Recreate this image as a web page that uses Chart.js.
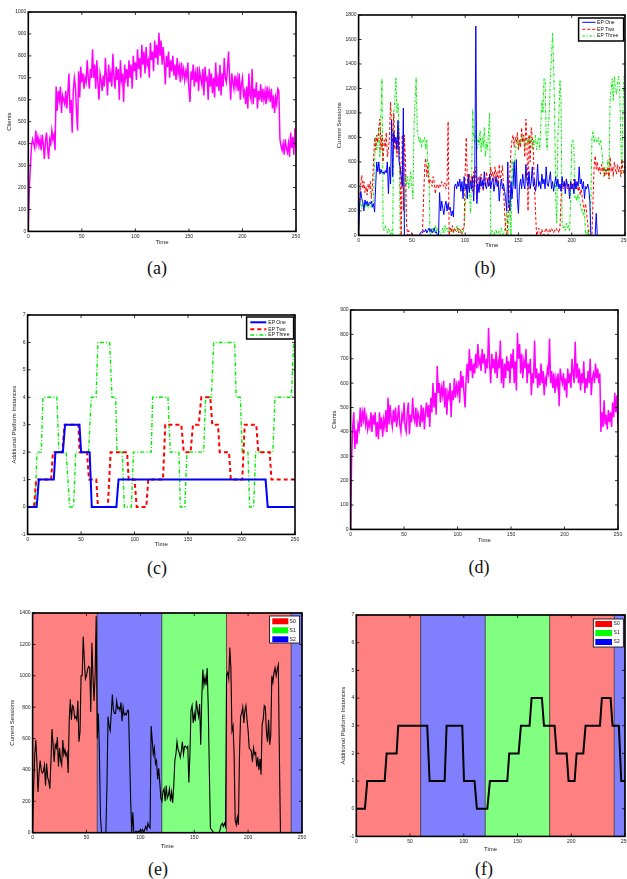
<!DOCTYPE html>
<html lang="en">
<head>
<meta charset="UTF-8">
<title>Clients, sessions and platform instances</title>
<style>
  body {
    margin: 0;
    background: #fff;
    width: 627px;
    height: 879px;
    overflow: hidden;
    position: relative;
  }
  canvas { position: absolute; }
  .cap {
    position: absolute;
    font-family: "Liberation Serif", "Times New Roman", serif;
    font-size: 18px;
    color: #111;
    transform: translate(-50%, -50%);
  }
</style>
<script src="https://cdn.jsdelivr.net/npm/chart.js"></script>
</head>
<body>
<canvas id="chartA"></canvas>
<canvas id="chartB"></canvas>
<canvas id="chartC"></canvas>
<canvas id="chartD"></canvas>
<canvas id="chartE"></canvas>
<canvas id="chartF"></canvas>

<div class="cap" style="left:157px;top:268px">(a)</div>
<div class="cap" style="left:485px;top:268px">(b)</div>
<div class="cap" style="left:157px;top:568px">(c)</div>
<div class="cap" style="left:479px;top:567px">(d)</div>
<div class="cap" style="left:158px;top:869px">(e)</div>
<div class="cap" style="left:484px;top:869px">(f)</div>

<script>
// values, one per time unit (t = 0..250) unless noted

// (a) clients
const clientsA = [
  0, 200, 300, 390, 420, 400, 380, 460, 400, 430,
  390, 420, 370, 440, 400, 330, 410, 450, 380, 330,
  420, 400, 460, 420, 440, 370, 660, 550, 640, 600,
  660, 540, 620, 600, 580, 640, 560, 640, 720, 540,
  600, 450, 640, 700, 660, 550, 460, 730, 610, 750,
  680, 720, 650, 700, 680, 780, 700, 650, 740, 700,
  830, 700, 760, 650, 780, 680, 600, 720, 690, 640,
  710, 660, 790, 700, 620, 760, 680, 720, 660, 810,
  700, 650, 750, 690, 740, 600, 780, 690, 720, 590,
  760, 700, 740, 660, 780, 700, 760, 650, 800, 730,
  770, 690, 830, 740, 790, 700, 850, 760, 820, 720,
  840, 760, 780, 700, 860, 780, 820, 730, 870, 790,
  850, 760, 905, 800, 870, 760, 840, 770, 670, 800,
  750, 820, 700, 780, 730, 800, 710, 760, 690, 790,
  720, 750, 680, 770, 710, 740, 690, 730, 700, 770,
  650, 590, 730, 690, 760, 660, 720, 680, 750, 640,
  730, 700, 670, 740, 620, 750, 690, 700, 600, 740,
  660, 720, 630, 700, 610, 770, 660, 700, 640, 760,
  620, 720, 660, 790, 700, 680, 740, 820, 700, 600,
  720, 680, 650, 710, 660, 700, 640, 720, 600, 670,
  700, 620, 640, 580, 660, 560, 720, 620, 600, 740,
  580, 650, 610, 680, 560, 640, 600, 670, 590, 650,
  600, 640, 580, 660, 610, 640, 590, 650, 560, 620,
  540, 610, 580, 650, 640, 420, 390, 370, 400, 350,
  420, 380, 360, 400, 340, 450, 380, 430, 350, 470,
  380
];

// (b) current sessions per EP
const sessionsOne = [
  0, 250, 360, 300, 270, 200, 290, 250, 280, 240,
  270, 260, 280, 230, 260, 190, 400, 600, 520, 600,
  500, 540, 510, 520, 500, 530, 510, 600, 340, 560,
  420, 940, 480, 840, 760, 800, 700, 940, 600, 560,
  480, 400, 1040, 0, 0, 0, 0, 0, 0, 0,
  0, 0, 0, 0, 0, 0, 0, 0, 20, 30,
  20, 40, 30, 50, 20, 40, 60, 30, 50, 20,
  40, 60, 20, 30, 0, 0, 350, 200, 280, 220,
  170, 240, 280, 200, 260, 210, 230, 160, 200, 150,
  400, 420, 380, 440, 400, 460, 360, 440, 300, 480,
  380, 420, 300, 500, 350, 440, 380, 480, 280, 500,
  1710, 260, 420, 350, 480, 400, 450, 380, 520, 410,
  380, 450, 400, 500, 380, 440, 470, 360, 420, 480,
  400, 440, 280, 400, 460, 380, 420, 360, 300, 200,
  600, 260, 200, 440, 300, 420, 600, 380, 620, 300,
  180, 400, 460, 380, 500, 420, 380, 580, 440, 400,
  520, 380, 440, 560, 400, 460, 360, 420, 580, 400,
  440, 380, 500, 420, 460, 380, 560, 420, 400, 460,
  520, 380, 440, 360, 420, 480, 400, 460, 380, 420,
  360, 480, 400, 440, 340, 460, 400, 420, 300, 440,
  380, 420, 340, 460, 380, 440, 400, 560, 420, 460,
  380, 440, 300, 400, 380, 420, 380, 280, 0, 0,
  0, 0, 0, 180, 0, 0, 0, 0, 0, 0,
  0, 0, 0, 0, 0, 0, 0, 0, 0, 0,
  0, 0, 0, 0, 0, 0, 0, 0, 0, 0,
  0
];
const sessionsTwo = [
  0, 300, 420, 490, 380, 440, 350, 400, 330, 420,
  380, 440, 300, 400, 600, 800, 700, 820, 760, 880,
  950, 700, 820, 600, 780, 720, 840, 640, 700, 800,
  1090, 900, 760, 1000, 700, 800, 640, 900, 840, 500,
  0, 820, 200, 820, 600, 100, 0, 40, 0, 0,
  20, 0, 0, 0, 0, 0, 0, 0, 0, 0,
  40, 300, 560, 630, 480, 560, 420, 460, 440, 400,
  480, 440, 340, 400, 420, 380, 420, 400, 440, 420,
  400, 430, 380, 420, 930, 0, 60, 30, 80, 20,
  60, 40, 30, 60, 20, 50, 30, 10, 60, 60,
  500, 800, 460, 380, 500, 420, 480, 360, 520, 400,
  560, 300, 480, 420, 380, 500, 440, 360, 460, 400,
  520, 440, 480, 400, 560, 480, 520, 440, 560, 480,
  520, 400, 580, 460, 500, 570, 380, 200, 40, 0,
  120, 300, 500, 700, 780, 820, 720, 800, 760, 840,
  700, 780, 720, 880, 760, 820, 640, 950, 780, 200,
  820, 600, 880, 800, 700, 400, 200, 0, 20, 60,
  30, 0, 50, 20, 0, 40, 60, 30, 0, 50,
  30, 60, 40, 20, 50, 40, 60, 40, 20, 60,
  300, 420, 380, 440, 400, 460, 380, 420, 360, 440,
  400, 380, 460, 420, 380, 440, 360, 400, 330, 380,
  300, 240, 200, 260, 180, 100, 0, 0, 0, 0,
  300, 560, 650, 540, 600, 520, 560, 500, 580, 520,
  560, 480, 540, 500, 560, 460, 640, 520, 560, 480,
  600, 540, 500, 580, 520, 560, 480, 620, 540, 500,
  580
];
const sessionsThree = [
  0, 300, 260, 220, 260, 240, 280, 230, 260, 220,
  250, 270, 230, 260, 300, 600, 800, 700, 760, 880,
  640, 1000, 1280, 60, 40, 80, 50, 20, 60, 30,
  0, 40, 0, 1000, 1100, 1290, 1000, 1080, 900, 0,
  0, 0, 0, 0, 500, 420, 480, 380, 440, 520,
  400, 300, 900, 1100, 1290, 900, 800, 760, 800, 720,
  780, 760, 800, 700, 780, 540, 600, 0, 40, 60,
  20, 50, 80, 30, 60, 20, 40, 0, 30, 60,
  20, 80, 40, 60, 20, 40, 60, 30, 50, 20,
  60, 40, 80, 30, 60, 40, 20, 50, 30, 60,
  200, 400, 300, 480, 380, 180, 420, 1030, 800, 760,
  860, 700, 800, 740, 860, 680, 800, 720, 880, 640,
  760, 700, 850, 1000, 0, 40, 20, 0, 30, 50,
  0, 20, 40, 0, 60, 20, 0, 40, 100, 200,
  0, 100, 300, 0, 620, 400, 560, 680, 740, 800,
  700, 780, 740, 820, 760, 800, 720, 780, 800, 740,
  820, 760, 800, 700, 780, 740, 820, 700, 760, 800,
  700, 900, 1100, 1000, 1280, 1280, 800, 700, 900, 1000,
  1300, 1450, 1650, 1400, 1000, 300, 100, 800, 1000, 1270,
  1100, 100, 60, 80, 40, 100, 60, 80, 40, 300,
  760, 780, 740, 300, 320, 280, 340, 300, 260, 200,
  220, 160, 200, 0, 0, 40, 0, 0, 300, 800,
  850, 760, 800, 780, 760, 800, 740, 780, 720, 620,
  480, 560, 500, 540, 620, 480, 1100, 1200, 1280, 1100,
  1300, 1200, 1150, 1250, 1300, 1200, 800, 500, 1000, 1300,
  1300
];

// (c) additional platform instances per EP (time, value) corners
const instOneT = [0, 8.5, 10.5, 24.5, 26, 33, 35, 48.5, 50, 58, 60, 83, 85, 222.5, 224.5, 250];
const instOneV = [0, 0, 1, 1, 2, 2, 3, 3, 2, 2, 0, 0, 1, 1, 0, 0];
const instTwoT = [0, 6, 8, 22, 23.7, 32.4, 34.6, 47.4, 48.6, 55.5, 57.4, 64.2, 65.8, 75, 77.6, 93, 94.5, 100, 102, 111,
  112.8, 126.6, 128.7, 143.7, 146, 152.4, 154.6, 160, 162.4, 170.8, 172.7, 178, 179.6, 188.3, 190, 200.7, 203, 213.8, 215.7, 226.3, 228, 250];
const instTwoV = [0, 0, 1, 1, 2, 2, 3, 3, 2, 2, 1, 1, 0, 0, 2, 2, 1, 1, 0, 0,
  1, 1, 3, 3, 2, 2, 3, 3, 4, 4, 3, 3, 2, 2, 1, 1, 3, 3, 2, 2, 1, 1];
const instThreeT = [0, 7, 8.7, 12.8, 14.3, 27.4, 29.3, 36, 39.3, 43, 45, 57, 59.5, 64, 65.8, 76.7, 78.9, 82.3, 83.5, 88.5,
  90.4, 97, 99, 115.6, 116.9, 131.2, 133.4, 141.5, 142.8, 147, 149, 164.6, 166.5, 171.8, 174, 193.6, 195, 198.9, 200.7, 206,
  207.6, 211.3, 213.2, 229.4, 231.3, 246.6, 248.8, 250];
const instThreeV = [0, 0, 2, 2, 4, 4, 2, 2, 0, 0, 2, 2, 4, 4, 6, 6, 4, 4, 2, 2,
  0, 0, 2, 2, 4, 4, 2, 2, 0, 0, 2, 2, 4, 4, 6, 6, 4, 4, 2, 2,
  0, 0, 2, 2, 4, 4, 6, 6];

// (d) clients
const clientsD = [
  0, 300, 420, 480, 330, 410, 350, 430, 410, 500,
  420, 480, 450, 500, 430, 460, 410, 440, 420, 480,
  400, 470, 430, 480, 380, 440, 370, 480, 410, 460,
  380, 450, 420, 490, 400, 540, 430, 510, 450, 420,
  490, 440, 500, 420, 460, 510, 430, 400, 470, 450,
  520, 420, 400, 480, 520, 390, 470, 440, 540, 460,
  440, 500, 420, 480, 460, 420, 510, 440, 500, 410,
  480, 520, 460, 510, 420, 540, 480, 600, 500, 560,
  470, 670, 560, 600, 520, 580, 550, 610, 500, 580,
  470, 560, 540, 600, 460, 570, 530, 620, 540, 590,
  560, 610, 520, 650, 580, 630, 560, 500, 620, 680,
  600, 740, 650, 700, 620, 680, 640, 720, 660, 760,
  680, 700, 650, 740, 680, 720, 640, 700, 660, 826,
  680, 600, 720, 660, 700, 640, 730, 620, 690, 660,
  775, 600, 700, 580, 680, 620, 710, 650, 690, 600,
  720, 660, 740, 600, 690, 570, 806, 700, 760, 640,
  720, 620, 690, 660, 740, 600, 680, 640, 700, 550,
  640, 600, 775, 620, 660, 580, 640, 590, 680, 600,
  650, 550, 620, 600, 660, 640, 783, 600, 650, 580,
  640, 560, 620, 590, 640, 505, 660, 620, 600, 640,
  570, 620, 540, 660, 600, 640, 580, 700, 640, 600,
  770, 620, 680, 600, 660, 570, 640, 600, 690, 560,
  620, 580, 650, 600, 700, 550, 620, 640, 600, 680,
  620, 660, 600, 640, 400, 480, 420, 530, 430, 470,
  410, 490, 440, 480, 420, 520, 460, 560, 480, 550,
  430
];

// (e) current sessions with the state bands
const sessionsE = [
  0, 300, 500, 590, 450, 260, 380, 460, 400, 380,
  390, 430, 300, 440, 350, 330, 280, 450, 660, 560,
  450, 560, 540, 610, 420, 540, 460, 430, 590, 500,
  530, 490, 510, 380, 720, 850, 720, 810, 800, 730,
  740, 720, 840, 580, 640, 1000, 1000, 1250, 1100, 980,
  1000, 1040, 1060, 1050, 770, 1210, 1000, 840, 1000, 1380,
  600, 760, 500, 100, 0, 0, 0, 0, 0, 300,
  740, 680, 650, 760, 880, 780, 760, 760, 840, 790,
  800, 780, 830, 710, 800, 750, 760, 750, 780, 780,
  500, 200, 0, 130, 0, 0, 10, 0, 10, 0,
  20, 10, 20, 0, 20, 40, 20, 60, 40, 30,
  680, 590, 500, 540, 440, 460, 340, 410, 320, 220,
  200, 260, 280, 200, 300, 220, 240, 280, 200, 260,
  190, 300, 460, 500, 580, 530, 510, 480, 520, 580,
  500, 550, 550, 540, 550, 320, 500, 780, 810, 700,
  760, 710, 840, 780, 740, 820, 560, 860, 1040, 940,
  990, 940, 1050, 800, 400, 30, 20, 10, 0, 0,
  0, 0, 0, 0, 20, 50, 60, 40, 60, 40,
  1000, 1020, 980, 1180, 1050, 650, 680, 500, 80, 50,
  100, 50, 500, 740, 760, 800, 700, 780, 810, 720,
  650, 540, 530, 520, 450, 540, 500, 510, 420, 480,
  400, 470, 370, 690, 720, 810, 800, 640, 580, 720,
  560, 620, 1000, 960, 1020, 1050, 1000, 1040, 1070, 500,
  0, 0, 0, 0, 0, 0, 0, 0, 0, 0,
  0, 0, 0, 0, 0, 0, 0, 0, 0, 0,
  0
];

// (f) total additional platform instances (time, value) corners
const instTotalT = [0, 8, 10.2, 26.4, 28.2, 37.5, 39, 66, 68.2, 82.2, 84, 98.6, 100.2, 110, 112.2, 121.9, 124.3, 140.5, 142.3, 151,
  153.2, 161.2, 163.1, 172.7, 174.6, 184.5, 186.4, 195.7, 197.5, 203.1, 205, 211.2, 213.3, 226.7, 228.5, 236.6, 238.4, 244.3, 246.5, 250];
const instTotalV = [0, 0, 1, 1, 2, 2, 3, 3, 1, 1, 3, 3, 1, 1, 0, 0, 1, 1, 2, 2,
  3, 3, 4, 4, 3, 3, 2, 2, 1, 1, 2, 2, 3, 3, 4, 4, 3, 3, 1, 1];

// state bands behind (e) and (f)
const bandStart = [0, 60, 120, 180, 240];
const bandEnd = [60, 120, 180, 240, 250];
const bandState = ['S0', 'S2', 'S1', 'S0', 'S2'];
const stateNames = ['S0', 'S1', 'S2'];

const stateFill = { S0: '#ff8080', S1: '#80ff80', S2: '#8080ff' };
const stateKey = { S0: '#ff0000', S1: '#00ff00', S2: '#0000ff' };

const tickFont = { family: 'Liberation Sans', size: 5 };
const titleFont = { family: 'Liberation Sans', size: 6 };

function series(values) {
  return values.map((v, i) => ({ x: i, y: v }));
}
function corners(ts, vs) {
  return ts.map((t, i) => ({ x: t, y: vs[i] }));
}

function drawLegend(chart, lg) {
  const ctx = chart.ctx;
  const ox = lg.ox, oy = lg.oy;
  const bx = lg.box[0] - ox, by = lg.box[1] - oy;
  const bw = lg.box[2] - lg.box[0], bh = lg.box[3] - lg.box[1];
  ctx.setLineDash([]);
  ctx.fillStyle = '#fff';
  ctx.fillRect(bx, by, bw, bh);
  ctx.strokeStyle = '#000';
  ctx.lineWidth = lg.border;
  ctx.strokeRect(bx, by, bw, bh);

  let items;
  if (lg.kind === 'line') {
    items = chart.data.datasets.map(d => ({
      label: d.label, color: d.borderColor, width: d.borderWidth, dash: d.borderDash || []
    }));
  } else {
    items = stateNames.map(s => ({ label: s, fill: stateKey[s] }));
  }

  ctx.font = '5px "Liberation Sans"';
  ctx.textBaseline = 'middle';
  ctx.textAlign = 'left';
  items.forEach((it, i) => {
    const yy = lg.rows[i] - oy;
    const x0 = lg.sample[0] - ox, x1 = lg.sample[1] - ox;
    if (it.fill) {
      ctx.fillStyle = it.fill;
      ctx.fillRect(x0, yy - 3, x1 - x0, 6);
    } else {
      ctx.strokeStyle = it.color;
      ctx.lineWidth = it.width;
      ctx.setLineDash(it.dash);
      ctx.beginPath();
      ctx.moveTo(x0, yy);
      ctx.lineTo(x1, yy);
      ctx.stroke();
      ctx.setLineDash([]);
    }
    ctx.fillStyle = '#111';
    ctx.fillText(it.label, lg.textX - ox, yy);
  });
}

// box with inward ticks, optional bands and legend
const framePlugin = {
  id: 'frame',
  beforeDatasetsDraw(chart, args, opts) {
    if (!opts.bands) return;
    const { ctx, chartArea: a, scales: { x } } = chart;
    ctx.save();
    bandStart.forEach((s, i) => {
      const x0 = x.getPixelForValue(s), x1 = x.getPixelForValue(bandEnd[i]);
      ctx.fillStyle = stateFill[bandState[i]];
      ctx.fillRect(x0, a.top, x1 - x0, a.bottom - a.top);
      ctx.strokeStyle = 'rgba(40,40,40,0.7)';
      ctx.lineWidth = 0.8;
      ctx.strokeRect(x0, a.top, x1 - x0, a.bottom - a.top);
    });
    ctx.restore();
  },
  afterDraw(chart, args, opts) {
    const { ctx, chartArea: a, scales: { x, y } } = chart;
    ctx.save();
    ctx.strokeStyle = '#000';
    ctx.lineWidth = 0.8;
    ctx.beginPath();
    x.ticks.forEach(t => {
      const px = x.getPixelForValue(t.value);
      ctx.moveTo(px, a.bottom); ctx.lineTo(px, a.bottom - 3);
      ctx.moveTo(px, a.top); ctx.lineTo(px, a.top + 3);
    });
    y.ticks.forEach(t => {
      const py = y.getPixelForValue(t.value);
      ctx.moveTo(a.left, py); ctx.lineTo(a.left + 3, py);
      ctx.moveTo(a.right, py); ctx.lineTo(a.right - 3, py);
    });
    ctx.stroke();
    ctx.lineWidth = 1.6;
    ctx.strokeRect(a.left, a.top, a.right - a.left, a.bottom - a.top);
    if (opts.legend) drawLegend(chart, opts.legend);
    ctx.restore();
  }
};

function makeChart(id, box, yAxis, datasets, legend, bands) {
  const pad = 8;
  const left = box.L - box.ml, top = box.T - pad;
  const w = Math.round(box.R - left + pad), h = Math.round(box.B + box.mb - top);
  const canvas = document.getElementById(id);
  canvas.style.left = left + 'px';
  canvas.style.top = top + 'px';
  canvas.width = w;
  canvas.height = h;
  if (legend) { legend.ox = left; legend.oy = top; }

  return new Chart(canvas, {
    type: 'line',
    data: { datasets: datasets },
    options: {
      responsive: false,
      animation: false,
      layout: { padding: { top: pad, right: pad, left: 0, bottom: 0 } },
      elements: { point: { radius: 0 }, line: { tension: 0 } },
      plugins: {
        legend: { display: false },
        tooltip: { enabled: false },
        frame: { legend: legend, bands: bands }
      },
      scales: {
        x: {
          type: 'linear', min: 0, max: 250,
          afterFit: s => { s.height = box.mb; },
          ticks: { stepSize: 50, padding: 2, font: tickFont, color: '#222', maxRotation: 0, callback: v => v },
          grid: { display: false, drawTicks: false },
          border: { display: false },
          title: { display: true, text: 'Time', font: titleFont, color: '#222', padding: 0 }
        },
        y: {
          type: 'linear', min: yAxis.min, max: yAxis.max,
          afterFit: s => { s.width = box.ml; },
          ticks: { stepSize: yAxis.step, padding: 2, font: tickFont, color: '#222', callback: v => v },
          grid: { display: false, drawTicks: false },
          border: { display: false },
          title: { display: true, text: yAxis.title, font: titleFont, color: '#222', padding: 0 }
        }
      }
    },
    plugins: [framePlugin]
  });
}

// (a)
makeChart('chartA', { L: 28, T: 12, R: 296, B: 231, ml: 22.3, mb: 14.6 },
  { min: 0, max: 1000, step: 100, title: 'Clients' },
  [{ label: 'Clients', data: series(clientsA), borderColor: '#ff00ff', borderWidth: 1.5 }]);

// (b)
makeChart('chartB', { L: 359, T: 15, R: 625, B: 235, ml: 22.6, mb: 13.6 },
  { min: 0, max: 1800, step: 200, title: 'Current Sessions' },
  [
    { label: 'EP One', data: series(sessionsOne), borderColor: '#0000ff', borderWidth: 1 },
    { label: 'EP Two', data: series(sessionsTwo), borderColor: '#ff0000', borderWidth: 1, borderDash: [3, 2] },
    { label: 'EP Three', data: series(sessionsThree), borderColor: '#00ee00', borderWidth: 1, borderDash: [3, 1.5, 1, 1.5] }
  ],
  { kind: 'line', box: [579, 18, 624, 41], rows: [22.3, 29.3, 36], sample: [582.7, 596], textX: 597.5, border: 1.5 });

// (c)
makeChart('chartC', { L: 28, T: 315, R: 295, B: 534, ml: 16.6, mb: 13.6 },
  { min: -1, max: 7, step: 1, title: 'Additional Platform Instances' },
  [
    { label: 'EP One', data: corners(instOneT, instOneV), borderColor: '#0000ff', borderWidth: 2 },
    { label: 'EP Two', data: corners(instTwoT, instTwoV), borderColor: '#ff0000', borderWidth: 2, borderDash: [4, 3] },
    { label: 'EP Three', data: corners(instThreeT, instThreeV), borderColor: '#00ee00', borderWidth: 1.4, borderDash: [4, 2, 1, 2] }
  ],
  { kind: 'line', box: [247, 317, 294, 339], rows: [322.3, 329.3, 335], sample: [250.7, 266.7], textX: 268.7, border: 1.5 });

// (d)
makeChart('chartD', { L: 351, T: 310, R: 618, B: 529, ml: 19.6, mb: 14.6 },
  { min: 0, max: 900, step: 100, title: 'Clients' },
  [{ label: 'Clients', data: series(clientsD), borderColor: '#ff00ff', borderWidth: 1.5 }]);

// (e)
makeChart('chartE', { L: 33, T: 613, R: 302, B: 833, ml: 23.6, mb: 17.3 },
  { min: 0, max: 1400, step: 200, title: 'Current Sessions' },
  [{ label: 'Sessions', data: series(sessionsE), borderColor: '#000', borderWidth: 1.1 }],
  { kind: 'patch', box: [270, 616, 300, 643], rows: [621.3, 630.3, 639.3], sample: [272.7, 288.7], textX: 290, border: 0.8 },
  true);

// (f)
makeChart('chartF', { L: 356, T: 615, R: 625, B: 836, ml: 16.3, mb: 16.6 },
  { min: -1, max: 7, step: 1, title: 'Additional Platform Instances' },
  [{ label: 'Instances', data: corners(instTotalT, instTotalV), borderColor: '#000', borderWidth: 2 }],
  { kind: 'patch', box: [593, 619, 623, 647], rows: [624, 633, 642], sample: [595, 611.7], textX: 613.3, border: 0.8 },
  true);
</script>
</body>
</html>
